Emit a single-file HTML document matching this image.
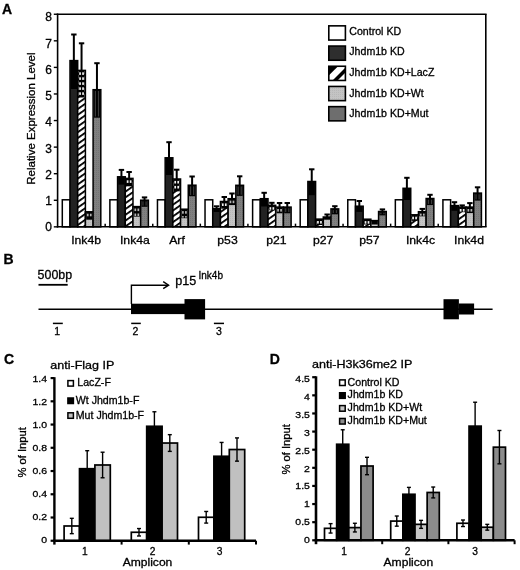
<!DOCTYPE html>
<html><head><meta charset="utf-8"><title>Figure</title>
<style>html,body{margin:0;padding:0;background:#fff;}svg{display:block;filter:grayscale(1) blur(0.35px);}text{font-family:"Liberation Sans", sans-serif;fill:#000;stroke:#000;stroke-width:0.3px;}</style>
</head><body>
<svg width="520" height="570" viewBox="0 0 520 570">
<rect width="520" height="570" fill="#fff"/>
<defs>
<pattern id="hatch" patternUnits="userSpaceOnUse" width="4.75" height="4" patternTransform="rotate(55)">
<rect width="4.75" height="4" fill="#fff"/><rect width="1.8" height="4" fill="#000"/></pattern>
<pattern id="hatchL" patternUnits="userSpaceOnUse" width="8" height="8" patternTransform="rotate(45)">
<rect width="8" height="8" fill="#000"/><rect x="2" width="4.5" height="8" fill="#fff"/></pattern>
<pattern id="lgray" patternUnits="userSpaceOnUse" width="2" height="2">
<rect width="2" height="2" fill="#c4c4c4"/><rect width="1" height="1" fill="#b8b8b8"/></pattern>
<pattern id="dgray" patternUnits="userSpaceOnUse" width="2" height="2">
<rect width="2" height="2" fill="#808080"/><rect width="1" height="1" fill="#747474"/></pattern>
</defs>
<rect x="62.3" y="199.8" width="7.7" height="27.05" fill="#ffffff" stroke="#000" stroke-width="1.5"/>
<rect x="70" y="60.6" width="7.7" height="166.25" fill="#222222" stroke="#000" stroke-width="1.5"/>
<rect x="70.75" y="60.6" width="6.2" height="28.4" fill="#000"/>
<line x1="73.85" y1="60.6" x2="73.85" y2="34.5" stroke="#000" stroke-width="2" stroke-linecap="butt"/>
<line x1="71.15" y1="34.5" x2="76.55" y2="34.5" stroke="#000" stroke-width="2" stroke-linecap="butt"/>
<rect x="77.7" y="70.4" width="7.7" height="156.45" fill="url(#hatch)" stroke="#000" stroke-width="1.5"/>
<rect x="78.45" y="70.4" width="6.2" height="27.1" fill="#000"/>
<rect x="79.2" y="72.3" width="1.7" height="2.6" fill="#f0f0f0"/>
<rect x="82.2" y="72.3" width="1.7" height="2.6" fill="#f0f0f0"/>
<rect x="79.2" y="77.3" width="1.7" height="2.6" fill="#f0f0f0"/>
<rect x="82.2" y="77.3" width="1.7" height="2.6" fill="#f0f0f0"/>
<rect x="79.2" y="82.3" width="1.7" height="2.6" fill="#f0f0f0"/>
<rect x="82.2" y="82.3" width="1.7" height="2.6" fill="#f0f0f0"/>
<rect x="79.2" y="87.3" width="1.7" height="2.6" fill="#f0f0f0"/>
<rect x="82.2" y="87.3" width="1.7" height="2.6" fill="#f0f0f0"/>
<rect x="79.2" y="92.3" width="1.7" height="2.6" fill="#f0f0f0"/>
<rect x="82.2" y="92.3" width="1.7" height="2.6" fill="#f0f0f0"/>
<line x1="81.55" y1="70.4" x2="81.55" y2="43.3" stroke="#000" stroke-width="2" stroke-linecap="butt"/>
<line x1="78.85" y1="43.3" x2="84.25" y2="43.3" stroke="#000" stroke-width="2" stroke-linecap="butt"/>
<rect x="85.4" y="211.8" width="7.7" height="15.05" fill="url(#lgray)" stroke="#000" stroke-width="1.5"/>
<rect x="86.15" y="211.8" width="6.2" height="7.9" fill="#000"/>
<rect x="86.9" y="213.7" width="1.7" height="2.6" fill="#b4b4b4"/>
<rect x="89.9" y="213.7" width="1.7" height="2.6" fill="#b4b4b4"/>
<rect x="93.1" y="89.7" width="7.7" height="137.15" fill="url(#dgray)" stroke="#000" stroke-width="1.5"/>
<rect x="93.85" y="89.7" width="6.2" height="28" fill="#000"/>
<rect x="94.8" y="90.9" width="1.2" height="25.6" fill="#3c3c3c"/>
<rect x="97.9" y="90.9" width="1.2" height="25.6" fill="#3c3c3c"/>
<line x1="96.95" y1="89.7" x2="96.95" y2="63.2" stroke="#000" stroke-width="2" stroke-linecap="butt"/>
<line x1="94.25" y1="63.2" x2="99.65" y2="63.2" stroke="#000" stroke-width="2" stroke-linecap="butt"/>
<rect x="109.88" y="199.8" width="7.7" height="27.05" fill="#ffffff" stroke="#000" stroke-width="1.5"/>
<rect x="117.58" y="176.8" width="7.7" height="50.05" fill="#222222" stroke="#000" stroke-width="1.5"/>
<rect x="118.33" y="176.8" width="6.2" height="7.8" fill="#000"/>
<line x1="121.43" y1="176.8" x2="121.43" y2="169.9" stroke="#000" stroke-width="2" stroke-linecap="butt"/>
<line x1="118.73" y1="169.9" x2="124.13" y2="169.9" stroke="#000" stroke-width="2" stroke-linecap="butt"/>
<rect x="125.28" y="178.4" width="7.7" height="48.45" fill="url(#hatch)" stroke="#000" stroke-width="1.5"/>
<rect x="126.03" y="178.4" width="6.2" height="7.9" fill="#000"/>
<rect x="126.78" y="180.3" width="1.7" height="2.6" fill="#f0f0f0"/>
<rect x="129.78" y="180.3" width="1.7" height="2.6" fill="#f0f0f0"/>
<line x1="129.13" y1="178.4" x2="129.13" y2="172" stroke="#000" stroke-width="2" stroke-linecap="butt"/>
<line x1="126.43" y1="172" x2="131.83" y2="172" stroke="#000" stroke-width="2" stroke-linecap="butt"/>
<rect x="132.98" y="206.6" width="7.7" height="20.25" fill="url(#lgray)" stroke="#000" stroke-width="1.5"/>
<rect x="133.73" y="206.6" width="6.2" height="10" fill="#000"/>
<rect x="134.48" y="208.5" width="1.7" height="2.6" fill="#b4b4b4"/>
<rect x="137.48" y="208.5" width="1.7" height="2.6" fill="#b4b4b4"/>
<rect x="134.48" y="213.5" width="1.7" height="2.5" fill="#b4b4b4"/>
<rect x="137.48" y="213.5" width="1.7" height="2.5" fill="#b4b4b4"/>
<rect x="140.68" y="200.2" width="7.7" height="26.65" fill="url(#dgray)" stroke="#000" stroke-width="1.5"/>
<rect x="141.43" y="200.2" width="6.2" height="6.6" fill="#000"/>
<rect x="142.38" y="201.4" width="1.2" height="4.2" fill="#3c3c3c"/>
<rect x="145.48" y="201.4" width="1.2" height="4.2" fill="#3c3c3c"/>
<line x1="144.53" y1="200.2" x2="144.53" y2="197.4" stroke="#000" stroke-width="2" stroke-linecap="butt"/>
<line x1="141.83" y1="197.4" x2="147.23" y2="197.4" stroke="#000" stroke-width="2" stroke-linecap="butt"/>
<rect x="157.46" y="199.8" width="7.7" height="27.05" fill="#ffffff" stroke="#000" stroke-width="1.5"/>
<rect x="165.16" y="157.8" width="7.7" height="69.05" fill="#222222" stroke="#000" stroke-width="1.5"/>
<rect x="165.91" y="157.8" width="6.2" height="17.2" fill="#000"/>
<line x1="169.01" y1="157.8" x2="169.01" y2="142.2" stroke="#000" stroke-width="2" stroke-linecap="butt"/>
<line x1="166.31" y1="142.2" x2="171.71" y2="142.2" stroke="#000" stroke-width="2" stroke-linecap="butt"/>
<rect x="172.86" y="179" width="7.7" height="47.85" fill="url(#hatch)" stroke="#000" stroke-width="1.5"/>
<rect x="173.61" y="179" width="6.2" height="12.3" fill="#000"/>
<rect x="174.36" y="180.9" width="1.7" height="2.6" fill="#f0f0f0"/>
<rect x="177.36" y="180.9" width="1.7" height="2.6" fill="#f0f0f0"/>
<rect x="174.36" y="185.9" width="1.7" height="2.6" fill="#f0f0f0"/>
<rect x="177.36" y="185.9" width="1.7" height="2.6" fill="#f0f0f0"/>
<line x1="176.71" y1="179" x2="176.71" y2="169.7" stroke="#000" stroke-width="2" stroke-linecap="butt"/>
<line x1="174.01" y1="169.7" x2="179.41" y2="169.7" stroke="#000" stroke-width="2" stroke-linecap="butt"/>
<rect x="180.56" y="209.2" width="7.7" height="17.65" fill="url(#lgray)" stroke="#000" stroke-width="1.5"/>
<rect x="181.31" y="209.2" width="6.2" height="9" fill="#000"/>
<rect x="182.06" y="211.1" width="1.7" height="2.6" fill="#b4b4b4"/>
<rect x="185.06" y="211.1" width="1.7" height="2.6" fill="#b4b4b4"/>
<rect x="182.06" y="216.1" width="1.7" height="1.5" fill="#b4b4b4"/>
<rect x="185.06" y="216.1" width="1.7" height="1.5" fill="#b4b4b4"/>
<rect x="188.26" y="185.2" width="7.7" height="41.65" fill="url(#dgray)" stroke="#000" stroke-width="1.5"/>
<rect x="189.01" y="185.2" width="6.2" height="11" fill="#000"/>
<rect x="189.96" y="186.4" width="1.2" height="8.6" fill="#3c3c3c"/>
<rect x="193.06" y="186.4" width="1.2" height="8.6" fill="#3c3c3c"/>
<line x1="192.11" y1="185.2" x2="192.11" y2="176.5" stroke="#000" stroke-width="2" stroke-linecap="butt"/>
<line x1="189.41" y1="176.5" x2="194.81" y2="176.5" stroke="#000" stroke-width="2" stroke-linecap="butt"/>
<rect x="205.03" y="199.8" width="7.7" height="27.05" fill="#ffffff" stroke="#000" stroke-width="1.5"/>
<rect x="212.73" y="208.7" width="7.7" height="18.15" fill="#222222" stroke="#000" stroke-width="1.5"/>
<rect x="213.48" y="208.7" width="6.2" height="3.3" fill="#000"/>
<line x1="216.58" y1="208.7" x2="216.58" y2="206.3" stroke="#000" stroke-width="2" stroke-linecap="butt"/>
<line x1="213.88" y1="206.3" x2="219.28" y2="206.3" stroke="#000" stroke-width="2" stroke-linecap="butt"/>
<rect x="220.43" y="201.5" width="7.7" height="25.35" fill="url(#hatch)" stroke="#000" stroke-width="1.5"/>
<rect x="221.18" y="201.5" width="6.2" height="7.2" fill="#000"/>
<rect x="221.93" y="203.4" width="1.7" height="2.6" fill="#f0f0f0"/>
<rect x="224.93" y="203.4" width="1.7" height="2.6" fill="#f0f0f0"/>
<line x1="224.28" y1="201.5" x2="224.28" y2="197" stroke="#000" stroke-width="2" stroke-linecap="butt"/>
<line x1="221.58" y1="197" x2="226.98" y2="197" stroke="#000" stroke-width="2" stroke-linecap="butt"/>
<rect x="228.13" y="198.7" width="7.7" height="28.15" fill="url(#lgray)" stroke="#000" stroke-width="1.5"/>
<rect x="228.88" y="198.7" width="6.2" height="6.4" fill="#000"/>
<rect x="229.63" y="200.6" width="1.7" height="2.6" fill="#b4b4b4"/>
<rect x="232.63" y="200.6" width="1.7" height="2.6" fill="#b4b4b4"/>
<line x1="231.98" y1="198.7" x2="231.98" y2="193.5" stroke="#000" stroke-width="2" stroke-linecap="butt"/>
<line x1="229.28" y1="193.5" x2="234.68" y2="193.5" stroke="#000" stroke-width="2" stroke-linecap="butt"/>
<rect x="235.83" y="185.3" width="7.7" height="41.55" fill="url(#dgray)" stroke="#000" stroke-width="1.5"/>
<rect x="236.58" y="185.3" width="6.2" height="10.6" fill="#000"/>
<rect x="237.53" y="186.5" width="1.2" height="8.2" fill="#3c3c3c"/>
<rect x="240.63" y="186.5" width="1.2" height="8.2" fill="#3c3c3c"/>
<line x1="239.68" y1="185.3" x2="239.68" y2="176.3" stroke="#000" stroke-width="2" stroke-linecap="butt"/>
<line x1="236.98" y1="176.3" x2="242.38" y2="176.3" stroke="#000" stroke-width="2" stroke-linecap="butt"/>
<rect x="252.61" y="199.8" width="7.7" height="27.05" fill="#ffffff" stroke="#000" stroke-width="1.5"/>
<rect x="260.31" y="198.7" width="7.7" height="28.15" fill="#222222" stroke="#000" stroke-width="1.5"/>
<rect x="261.06" y="198.7" width="6.2" height="7.8" fill="#000"/>
<line x1="264.16" y1="198.7" x2="264.16" y2="192.8" stroke="#000" stroke-width="2" stroke-linecap="butt"/>
<line x1="261.46" y1="192.8" x2="266.86" y2="192.8" stroke="#000" stroke-width="2" stroke-linecap="butt"/>
<rect x="268.01" y="205.3" width="7.7" height="21.55" fill="url(#hatch)" stroke="#000" stroke-width="1.5"/>
<rect x="268.76" y="205.3" width="6.2" height="5" fill="#000"/>
<rect x="269.51" y="207.2" width="1.7" height="2.5" fill="#f0f0f0"/>
<rect x="272.51" y="207.2" width="1.7" height="2.5" fill="#f0f0f0"/>
<line x1="271.86" y1="205.3" x2="271.86" y2="202.8" stroke="#000" stroke-width="2" stroke-linecap="butt"/>
<line x1="269.16" y1="202.8" x2="274.56" y2="202.8" stroke="#000" stroke-width="2" stroke-linecap="butt"/>
<rect x="275.71" y="207.1" width="7.7" height="19.75" fill="url(#lgray)" stroke="#000" stroke-width="1.5"/>
<rect x="276.46" y="207.1" width="6.2" height="6.2" fill="#000"/>
<rect x="277.21" y="209" width="1.7" height="2.6" fill="#b4b4b4"/>
<rect x="280.21" y="209" width="1.7" height="2.6" fill="#b4b4b4"/>
<line x1="279.56" y1="207.1" x2="279.56" y2="203" stroke="#000" stroke-width="2" stroke-linecap="butt"/>
<line x1="276.86" y1="203" x2="282.26" y2="203" stroke="#000" stroke-width="2" stroke-linecap="butt"/>
<rect x="283.41" y="207.1" width="7.7" height="19.75" fill="url(#dgray)" stroke="#000" stroke-width="1.5"/>
<rect x="284.16" y="207.1" width="6.2" height="6.2" fill="#000"/>
<rect x="285.11" y="208.3" width="1.2" height="3.8" fill="#3c3c3c"/>
<rect x="288.21" y="208.3" width="1.2" height="3.8" fill="#3c3c3c"/>
<line x1="287.26" y1="207.1" x2="287.26" y2="203" stroke="#000" stroke-width="2" stroke-linecap="butt"/>
<line x1="284.56" y1="203" x2="289.96" y2="203" stroke="#000" stroke-width="2" stroke-linecap="butt"/>
<rect x="300.19" y="199.8" width="7.7" height="27.05" fill="#ffffff" stroke="#000" stroke-width="1.5"/>
<rect x="307.89" y="181.5" width="7.7" height="45.35" fill="#222222" stroke="#000" stroke-width="1.5"/>
<rect x="308.64" y="181.5" width="6.2" height="13.7" fill="#000"/>
<line x1="311.74" y1="181.5" x2="311.74" y2="169.3" stroke="#000" stroke-width="2" stroke-linecap="butt"/>
<line x1="309.04" y1="169.3" x2="314.44" y2="169.3" stroke="#000" stroke-width="2" stroke-linecap="butt"/>
<rect x="315.59" y="219.1" width="7.7" height="7.75" fill="url(#hatch)" stroke="#000" stroke-width="1.5"/>
<rect x="316.34" y="219.1" width="6.2" height="5.9" fill="#000"/>
<rect x="317.09" y="221" width="1.7" height="2.6" fill="#f0f0f0"/>
<rect x="320.09" y="221" width="1.7" height="2.6" fill="#f0f0f0"/>
<rect x="323.29" y="217" width="7.7" height="9.85" fill="url(#lgray)" stroke="#000" stroke-width="1.5"/>
<rect x="324.04" y="217" width="6.2" height="2.7" fill="#000"/>
<line x1="327.14" y1="217" x2="327.14" y2="214.5" stroke="#000" stroke-width="2" stroke-linecap="butt"/>
<line x1="324.44" y1="214.5" x2="329.84" y2="214.5" stroke="#000" stroke-width="2" stroke-linecap="butt"/>
<rect x="330.99" y="208.9" width="7.7" height="17.95" fill="url(#dgray)" stroke="#000" stroke-width="1.5"/>
<rect x="331.74" y="208.9" width="6.2" height="5.4" fill="#000"/>
<rect x="332.69" y="210.1" width="1.2" height="3" fill="#3c3c3c"/>
<rect x="335.79" y="210.1" width="1.2" height="3" fill="#3c3c3c"/>
<line x1="334.84" y1="208.9" x2="334.84" y2="206.2" stroke="#000" stroke-width="2" stroke-linecap="butt"/>
<line x1="332.14" y1="206.2" x2="337.54" y2="206.2" stroke="#000" stroke-width="2" stroke-linecap="butt"/>
<rect x="347.77" y="199.8" width="7.7" height="27.05" fill="#ffffff" stroke="#000" stroke-width="1.5"/>
<rect x="355.47" y="206.2" width="7.7" height="20.65" fill="#222222" stroke="#000" stroke-width="1.5"/>
<rect x="356.22" y="206.2" width="6.2" height="5.7" fill="#000"/>
<line x1="359.32" y1="206.2" x2="359.32" y2="201" stroke="#000" stroke-width="2" stroke-linecap="butt"/>
<line x1="356.62" y1="201" x2="362.02" y2="201" stroke="#000" stroke-width="2" stroke-linecap="butt"/>
<rect x="363.17" y="219.2" width="7.7" height="7.65" fill="url(#hatch)" stroke="#000" stroke-width="1.5"/>
<rect x="363.92" y="219.2" width="6.2" height="5.3" fill="#000"/>
<rect x="364.67" y="221.1" width="1.7" height="2.6" fill="#f0f0f0"/>
<rect x="367.67" y="221.1" width="1.7" height="2.6" fill="#f0f0f0"/>
<rect x="370.87" y="220.6" width="7.7" height="6.25" fill="url(#lgray)" stroke="#000" stroke-width="1.5"/>
<rect x="371.62" y="220.6" width="6.2" height="3.9" fill="#000"/>
<rect x="378.57" y="211.5" width="7.7" height="15.35" fill="url(#dgray)" stroke="#000" stroke-width="1.5"/>
<rect x="379.32" y="211.5" width="6.2" height="3.9" fill="#000"/>
<rect x="380.27" y="212.7" width="1.2" height="1.5" fill="#3c3c3c"/>
<rect x="383.37" y="212.7" width="1.2" height="1.5" fill="#3c3c3c"/>
<line x1="382.42" y1="211.5" x2="382.42" y2="209.4" stroke="#000" stroke-width="2" stroke-linecap="butt"/>
<line x1="379.72" y1="209.4" x2="385.12" y2="209.4" stroke="#000" stroke-width="2" stroke-linecap="butt"/>
<rect x="395.34" y="199.8" width="7.7" height="27.05" fill="#ffffff" stroke="#000" stroke-width="1.5"/>
<rect x="403.04" y="188.3" width="7.7" height="38.55" fill="#222222" stroke="#000" stroke-width="1.5"/>
<rect x="403.79" y="188.3" width="6.2" height="11.7" fill="#000"/>
<line x1="406.89" y1="188.3" x2="406.89" y2="177.8" stroke="#000" stroke-width="2" stroke-linecap="butt"/>
<line x1="404.19" y1="177.8" x2="409.59" y2="177.8" stroke="#000" stroke-width="2" stroke-linecap="butt"/>
<rect x="410.74" y="214.8" width="7.7" height="12.05" fill="url(#hatch)" stroke="#000" stroke-width="1.5"/>
<rect x="411.49" y="214.8" width="6.2" height="6.1" fill="#000"/>
<rect x="412.24" y="216.7" width="1.7" height="2.6" fill="#f0f0f0"/>
<rect x="415.24" y="216.7" width="1.7" height="2.6" fill="#f0f0f0"/>
<rect x="418.44" y="211.7" width="7.7" height="15.15" fill="url(#lgray)" stroke="#000" stroke-width="1.5"/>
<rect x="419.19" y="211.7" width="6.2" height="4.6" fill="#000"/>
<rect x="419.94" y="213.6" width="1.7" height="2.1" fill="#b4b4b4"/>
<rect x="422.94" y="213.6" width="1.7" height="2.1" fill="#b4b4b4"/>
<line x1="422.29" y1="211.7" x2="422.29" y2="208.9" stroke="#000" stroke-width="2" stroke-linecap="butt"/>
<line x1="419.59" y1="208.9" x2="424.99" y2="208.9" stroke="#000" stroke-width="2" stroke-linecap="butt"/>
<rect x="426.14" y="198.5" width="7.7" height="28.35" fill="url(#dgray)" stroke="#000" stroke-width="1.5"/>
<rect x="426.89" y="198.5" width="6.2" height="6.6" fill="#000"/>
<rect x="427.84" y="199.7" width="1.2" height="4.2" fill="#3c3c3c"/>
<rect x="430.94" y="199.7" width="1.2" height="4.2" fill="#3c3c3c"/>
<line x1="429.99" y1="198.5" x2="429.99" y2="194.8" stroke="#000" stroke-width="2" stroke-linecap="butt"/>
<line x1="427.29" y1="194.8" x2="432.69" y2="194.8" stroke="#000" stroke-width="2" stroke-linecap="butt"/>
<rect x="442.92" y="199.8" width="7.7" height="27.05" fill="#ffffff" stroke="#000" stroke-width="1.5"/>
<rect x="450.62" y="205.6" width="7.7" height="21.25" fill="#222222" stroke="#000" stroke-width="1.5"/>
<rect x="451.37" y="205.6" width="6.2" height="5.2" fill="#000"/>
<line x1="454.47" y1="205.6" x2="454.47" y2="202.2" stroke="#000" stroke-width="2" stroke-linecap="butt"/>
<line x1="451.77" y1="202.2" x2="457.17" y2="202.2" stroke="#000" stroke-width="2" stroke-linecap="butt"/>
<rect x="458.32" y="207.1" width="7.7" height="19.75" fill="url(#hatch)" stroke="#000" stroke-width="1.5"/>
<rect x="459.07" y="207.1" width="6.2" height="5.1" fill="#000"/>
<rect x="459.82" y="209" width="1.7" height="2.6" fill="#f0f0f0"/>
<rect x="462.82" y="209" width="1.7" height="2.6" fill="#f0f0f0"/>
<line x1="462.17" y1="207.1" x2="462.17" y2="205.4" stroke="#000" stroke-width="2" stroke-linecap="butt"/>
<line x1="459.47" y1="205.4" x2="464.87" y2="205.4" stroke="#000" stroke-width="2" stroke-linecap="butt"/>
<rect x="466.02" y="207.1" width="7.7" height="19.75" fill="url(#lgray)" stroke="#000" stroke-width="1.5"/>
<rect x="466.77" y="207.1" width="6.2" height="6" fill="#000"/>
<rect x="467.52" y="209" width="1.7" height="2.6" fill="#b4b4b4"/>
<rect x="470.52" y="209" width="1.7" height="2.6" fill="#b4b4b4"/>
<line x1="469.87" y1="207.1" x2="469.87" y2="203.1" stroke="#000" stroke-width="2" stroke-linecap="butt"/>
<line x1="467.17" y1="203.1" x2="472.57" y2="203.1" stroke="#000" stroke-width="2" stroke-linecap="butt"/>
<rect x="473.72" y="193.1" width="7.7" height="33.75" fill="url(#dgray)" stroke="#000" stroke-width="1.5"/>
<rect x="474.47" y="193.1" width="6.2" height="7.5" fill="#000"/>
<rect x="475.42" y="194.3" width="1.2" height="5.1" fill="#3c3c3c"/>
<rect x="478.52" y="194.3" width="1.2" height="5.1" fill="#3c3c3c"/>
<line x1="477.57" y1="193.1" x2="477.57" y2="187.3" stroke="#000" stroke-width="2" stroke-linecap="butt"/>
<line x1="474.87" y1="187.3" x2="480.27" y2="187.3" stroke="#000" stroke-width="2" stroke-linecap="butt"/>
<line x1="57.6" y1="13.65" x2="57.6" y2="227.55" stroke="#000" stroke-width="1.6" stroke-linecap="butt"/>
<line x1="56.8" y1="14.25" x2="486.6" y2="14.25" stroke="#000" stroke-width="1.4" stroke-linecap="butt"/>
<line x1="485.8" y1="14.25" x2="485.8" y2="226.85" stroke="#000" stroke-width="1.6" stroke-linecap="butt"/>
<line x1="56.8" y1="226.85" x2="486.6" y2="226.85" stroke="#000" stroke-width="1.5" stroke-linecap="butt"/>
<line x1="53.8" y1="226.85" x2="57.6" y2="226.85" stroke="#000" stroke-width="1.4" stroke-linecap="butt"/>
<text x="52" y="231.29" font-size="12" text-anchor="end">0</text>
<line x1="53.8" y1="200.28" x2="57.6" y2="200.28" stroke="#000" stroke-width="1.4" stroke-linecap="butt"/>
<text x="52" y="205.06" font-size="12" text-anchor="end">1</text>
<line x1="53.8" y1="173.7" x2="57.6" y2="173.7" stroke="#000" stroke-width="1.4" stroke-linecap="butt"/>
<text x="52" y="178.83" font-size="12" text-anchor="end">2</text>
<line x1="53.8" y1="147.12" x2="57.6" y2="147.12" stroke="#000" stroke-width="1.4" stroke-linecap="butt"/>
<text x="52" y="152.6" font-size="12" text-anchor="end">3</text>
<line x1="53.8" y1="120.55" x2="57.6" y2="120.55" stroke="#000" stroke-width="1.4" stroke-linecap="butt"/>
<text x="52" y="126.37" font-size="12" text-anchor="end">4</text>
<line x1="53.8" y1="93.97" x2="57.6" y2="93.97" stroke="#000" stroke-width="1.4" stroke-linecap="butt"/>
<text x="52" y="100.14" font-size="12" text-anchor="end">5</text>
<line x1="53.8" y1="67.4" x2="57.6" y2="67.4" stroke="#000" stroke-width="1.4" stroke-linecap="butt"/>
<text x="52" y="73.91" font-size="12" text-anchor="end">6</text>
<line x1="53.8" y1="40.82" x2="57.6" y2="40.82" stroke="#000" stroke-width="1.4" stroke-linecap="butt"/>
<text x="52" y="47.68" font-size="12" text-anchor="end">7</text>
<line x1="53.8" y1="14.25" x2="57.6" y2="14.25" stroke="#000" stroke-width="1.4" stroke-linecap="butt"/>
<text x="52" y="21.45" font-size="12" text-anchor="end">8</text>
<line x1="105.18" y1="226.85" x2="105.18" y2="223.65" stroke="#000" stroke-width="1.5" stroke-linecap="butt"/>
<line x1="152.76" y1="226.85" x2="152.76" y2="223.65" stroke="#000" stroke-width="1.5" stroke-linecap="butt"/>
<line x1="200.33" y1="226.85" x2="200.33" y2="223.65" stroke="#000" stroke-width="1.5" stroke-linecap="butt"/>
<line x1="247.91" y1="226.85" x2="247.91" y2="223.65" stroke="#000" stroke-width="1.5" stroke-linecap="butt"/>
<line x1="295.49" y1="226.85" x2="295.49" y2="223.65" stroke="#000" stroke-width="1.5" stroke-linecap="butt"/>
<line x1="343.07" y1="226.85" x2="343.07" y2="223.65" stroke="#000" stroke-width="1.5" stroke-linecap="butt"/>
<line x1="390.64" y1="226.85" x2="390.64" y2="223.65" stroke="#000" stroke-width="1.5" stroke-linecap="butt"/>
<line x1="438.22" y1="226.85" x2="438.22" y2="223.65" stroke="#000" stroke-width="1.5" stroke-linecap="butt"/>
<text transform="translate(86.1,243.6) scale(1.08,1)" font-size="11.3" text-anchor="middle">Ink4b</text>
<text transform="translate(134.9,243.6) scale(1.08,1)" font-size="11.3" text-anchor="middle">Ink4a</text>
<text transform="translate(177,243.6) scale(1.08,1)" font-size="11.3" text-anchor="middle">Arf</text>
<text transform="translate(227.5,243.6) scale(1.08,1)" font-size="11.3" text-anchor="middle">p53</text>
<text transform="translate(276.3,243.6) scale(1.08,1)" font-size="11.3" text-anchor="middle">p21</text>
<text transform="translate(323.1,243.6) scale(1.08,1)" font-size="11.3" text-anchor="middle">p27</text>
<text transform="translate(369.3,243.6) scale(1.08,1)" font-size="11.3" text-anchor="middle">p57</text>
<text transform="translate(420.5,243.6) scale(1.08,1)" font-size="11.3" text-anchor="middle">Ink4c</text>
<text transform="translate(469,243.6) scale(1.08,1)" font-size="11.3" text-anchor="middle">Ink4d</text>
<text transform="translate(35.2,118.6) rotate(-90)" x="0" y="0" font-size="11.5" text-anchor="middle">Relative Expression Level</text>
<rect x="328.8" y="25.85" width="16.6" height="14.2" fill="#ffffff" stroke="#000" stroke-width="1.6"/>
<text x="349.3" y="35" font-size="10.6">Control KD</text>
<rect x="328.8" y="46.05" width="16.6" height="14.2" fill="#2e2e2e" stroke="#000" stroke-width="1.6"/>
<text x="349.3" y="54.8" font-size="10.6">Jhdm1b KD</text>
<clipPath id="lzc"><rect x="328.8" y="66.25" width="16.6" height="14.2"/></clipPath>
<g clip-path="url(#lzc)"><rect x="328" y="65.25" width="20" height="18" fill="#000"/>
<polygon points="344.3,60 353,60 328,85 319.3,85" fill="#fff"/>
<polygon points="358,60 372,60 347,85 333,85" fill="#fff"/>
</g>
<rect x="328.8" y="66.25" width="16.6" height="14.2" fill="none" stroke="#000" stroke-width="1.6"/>
<text x="349.3" y="76" font-size="10.6">Jhdm1b KD+LacZ</text>
<rect x="328.8" y="86.45" width="16.6" height="14.2" fill="url(#lgray)" stroke="#000" stroke-width="1.6"/>
<text x="349.3" y="97" font-size="10.6">Jhdm1b KD+Wt</text>
<rect x="328.8" y="106.65" width="16.6" height="14.2" fill="#6e6e6e" stroke="#000" stroke-width="1.6"/>
<text x="349.3" y="117.1" font-size="10.6">Jhdm1b KD+Mut</text>
<text x="2" y="13.6" font-size="14" font-weight="bold">A</text>
<text x="3.6" y="264.2" font-size="14" font-weight="bold">B</text>
<text x="37.6" y="279.2" font-size="12.4">500bp</text>
<line x1="38.5" y1="284.8" x2="67.7" y2="284.8" stroke="#000" stroke-width="1.8" stroke-linecap="butt"/>
<line x1="38.5" y1="309.3" x2="492.6" y2="309.3" stroke="#000" stroke-width="1.4" stroke-linecap="butt"/>
<rect x="131" y="303.7" width="54" height="10.4" fill="#000"/>
<rect x="184.5" y="299.1" width="20.6" height="20.3" fill="#000"/>
<rect x="443.5" y="299.2" width="15.4" height="20.1" fill="#000"/>
<rect x="458.9" y="303.5" width="15.2" height="11" fill="#000"/>
<path d="M131.4 304 V285.2 H168.3" fill="none" stroke="#000" stroke-width="1.4"/>
<path d="M163.2 281.7 L168.6 285.2 L163.2 288.7" fill="none" stroke="#000" stroke-width="1.4"/>
<text x="175.3" y="285.3" font-size="12.6">p15</text>
<text x="198.5" y="278.9" font-size="10">Ink4b</text>
<line x1="52.9" y1="323.4" x2="62.8" y2="323.4" stroke="#000" stroke-width="1.5" stroke-linecap="butt"/>
<text x="57.2" y="334.6" font-size="10.5" text-anchor="middle">1</text>
<line x1="131.2" y1="323.4" x2="140.8" y2="323.4" stroke="#000" stroke-width="1.5" stroke-linecap="butt"/>
<text x="135.4" y="334.6" font-size="10.5" text-anchor="middle">2</text>
<line x1="213.9" y1="323.4" x2="224" y2="323.4" stroke="#000" stroke-width="1.5" stroke-linecap="butt"/>
<text x="219" y="334.6" font-size="10.5" text-anchor="middle">3</text>
<text x="4" y="364.3" font-size="14" font-weight="bold">C</text>
<text transform="translate(50.3,368.8) scale(1.1,1)" font-size="11.4">anti-Flag IP</text>
<rect x="64.1" y="525.99" width="15.4" height="14.76" fill="#ffffff" stroke="#000" stroke-width="1.7"/>
<line x1="71.8" y1="518.32" x2="71.8" y2="533.66" stroke="#000" stroke-width="1.4" stroke-linecap="butt"/>
<line x1="69.8" y1="518.32" x2="73.8" y2="518.32" stroke="#000" stroke-width="1.4" stroke-linecap="butt"/>
<line x1="69.8" y1="533.66" x2="73.8" y2="533.66" stroke="#000" stroke-width="1.4" stroke-linecap="butt"/>
<rect x="79.5" y="468.71" width="15.4" height="72.04" fill="#000000" stroke="#000" stroke-width="1.7"/>
<line x1="87.2" y1="450.69" x2="87.2" y2="486.72" stroke="#000" stroke-width="1.4" stroke-linecap="butt"/>
<line x1="85.2" y1="450.69" x2="89.2" y2="450.69" stroke="#000" stroke-width="1.4" stroke-linecap="butt"/>
<line x1="85.2" y1="486.72" x2="89.2" y2="486.72" stroke="#000" stroke-width="1.4" stroke-linecap="butt"/>
<rect x="94.9" y="464.99" width="15.4" height="75.76" fill="#c0c0c0" stroke="#000" stroke-width="1.7"/>
<line x1="102.6" y1="452.21" x2="102.6" y2="477.77" stroke="#000" stroke-width="1.4" stroke-linecap="butt"/>
<line x1="100.6" y1="452.21" x2="104.6" y2="452.21" stroke="#000" stroke-width="1.4" stroke-linecap="butt"/>
<line x1="100.6" y1="477.77" x2="104.6" y2="477.77" stroke="#000" stroke-width="1.4" stroke-linecap="butt"/>
<rect x="131.3" y="532.27" width="15.4" height="8.48" fill="#ffffff" stroke="#000" stroke-width="1.7"/>
<line x1="139" y1="528.55" x2="139" y2="535.99" stroke="#000" stroke-width="1.4" stroke-linecap="butt"/>
<line x1="137" y1="528.55" x2="141" y2="528.55" stroke="#000" stroke-width="1.4" stroke-linecap="butt"/>
<line x1="137" y1="535.99" x2="141" y2="535.99" stroke="#000" stroke-width="1.4" stroke-linecap="butt"/>
<rect x="146.7" y="426.29" width="15.4" height="114.46" fill="#000000" stroke="#000" stroke-width="1.7"/>
<line x1="154.4" y1="411.77" x2="154.4" y2="440.82" stroke="#000" stroke-width="1.4" stroke-linecap="butt"/>
<line x1="152.4" y1="411.77" x2="156.4" y2="411.77" stroke="#000" stroke-width="1.4" stroke-linecap="butt"/>
<line x1="152.4" y1="440.82" x2="156.4" y2="440.82" stroke="#000" stroke-width="1.4" stroke-linecap="butt"/>
<rect x="162.1" y="443.03" width="15.4" height="97.72" fill="#c0c0c0" stroke="#000" stroke-width="1.7"/>
<line x1="169.8" y1="434.66" x2="169.8" y2="451.39" stroke="#000" stroke-width="1.4" stroke-linecap="butt"/>
<line x1="167.8" y1="434.66" x2="171.8" y2="434.66" stroke="#000" stroke-width="1.4" stroke-linecap="butt"/>
<line x1="167.8" y1="451.39" x2="171.8" y2="451.39" stroke="#000" stroke-width="1.4" stroke-linecap="butt"/>
<rect x="198.5" y="517.28" width="15.4" height="23.47" fill="#ffffff" stroke="#000" stroke-width="1.7"/>
<line x1="206.2" y1="511.47" x2="206.2" y2="523.09" stroke="#000" stroke-width="1.4" stroke-linecap="butt"/>
<line x1="204.2" y1="511.47" x2="208.2" y2="511.47" stroke="#000" stroke-width="1.4" stroke-linecap="butt"/>
<line x1="204.2" y1="523.09" x2="208.2" y2="523.09" stroke="#000" stroke-width="1.4" stroke-linecap="butt"/>
<rect x="213.9" y="456.27" width="15.4" height="84.48" fill="#000000" stroke="#000" stroke-width="1.7"/>
<line x1="221.6" y1="442.44" x2="221.6" y2="470.1" stroke="#000" stroke-width="1.4" stroke-linecap="butt"/>
<line x1="219.6" y1="442.44" x2="223.6" y2="442.44" stroke="#000" stroke-width="1.4" stroke-linecap="butt"/>
<line x1="219.6" y1="470.1" x2="223.6" y2="470.1" stroke="#000" stroke-width="1.4" stroke-linecap="butt"/>
<rect x="229.3" y="449.53" width="15.4" height="91.22" fill="#c0c0c0" stroke="#000" stroke-width="1.7"/>
<line x1="237" y1="437.91" x2="237" y2="461.15" stroke="#000" stroke-width="1.4" stroke-linecap="butt"/>
<line x1="235" y1="437.91" x2="239" y2="437.91" stroke="#000" stroke-width="1.4" stroke-linecap="butt"/>
<line x1="235" y1="461.15" x2="239" y2="461.15" stroke="#000" stroke-width="1.4" stroke-linecap="butt"/>
<line x1="54.4" y1="377.2" x2="54.4" y2="544.6" stroke="#000" stroke-width="2.4" stroke-linecap="butt"/>
<line x1="53.2" y1="540.75" x2="256" y2="540.75" stroke="#000" stroke-width="2.4" stroke-linecap="butt"/>
<line x1="50.6" y1="540.75" x2="54.4" y2="540.75" stroke="#000" stroke-width="2.2" stroke-linecap="butt"/>
<text transform="translate(47,543.1) scale(1.07,1)" font-size="9.8" text-anchor="end">0</text>
<line x1="50.6" y1="517.51" x2="54.4" y2="517.51" stroke="#000" stroke-width="2.2" stroke-linecap="butt"/>
<text transform="translate(47,520.08) scale(1.07,1)" font-size="9.8" text-anchor="end">0.2</text>
<line x1="50.6" y1="494.27" x2="54.4" y2="494.27" stroke="#000" stroke-width="2.2" stroke-linecap="butt"/>
<text transform="translate(47,497.06) scale(1.07,1)" font-size="9.8" text-anchor="end">0.4</text>
<line x1="50.6" y1="471.03" x2="54.4" y2="471.03" stroke="#000" stroke-width="2.2" stroke-linecap="butt"/>
<text transform="translate(47,474.04) scale(1.07,1)" font-size="9.8" text-anchor="end">0.6</text>
<line x1="50.6" y1="447.79" x2="54.4" y2="447.79" stroke="#000" stroke-width="2.2" stroke-linecap="butt"/>
<text transform="translate(47,451.02) scale(1.07,1)" font-size="9.8" text-anchor="end">0.8</text>
<line x1="50.6" y1="424.55" x2="54.4" y2="424.55" stroke="#000" stroke-width="2.2" stroke-linecap="butt"/>
<text transform="translate(47,428) scale(1.07,1)" font-size="9.8" text-anchor="end">1.0</text>
<line x1="50.6" y1="401.31" x2="54.4" y2="401.31" stroke="#000" stroke-width="2.2" stroke-linecap="butt"/>
<text transform="translate(47,404.98) scale(1.07,1)" font-size="9.8" text-anchor="end">1.2</text>
<line x1="50.6" y1="378.07" x2="54.4" y2="378.07" stroke="#000" stroke-width="2.2" stroke-linecap="butt"/>
<text transform="translate(47,381.96) scale(1.07,1)" font-size="9.8" text-anchor="end">1.4</text>
<line x1="121.6" y1="540.75" x2="121.6" y2="544.6" stroke="#000" stroke-width="2" stroke-linecap="butt"/>
<line x1="188.8" y1="540.75" x2="188.8" y2="544.6" stroke="#000" stroke-width="2" stroke-linecap="butt"/>
<line x1="256" y1="540.75" x2="256" y2="544.6" stroke="#000" stroke-width="2" stroke-linecap="butt"/>
<text x="84.9" y="554.6" font-size="10.2" text-anchor="middle">1</text>
<text x="152.5" y="554.6" font-size="10.2" text-anchor="middle">2</text>
<text x="219.6" y="554.6" font-size="10.2" text-anchor="middle">3</text>
<text transform="translate(147.5,566.4) scale(1.08,1)" font-size="11.2" text-anchor="middle">Amplicon</text>
<text transform="translate(26.3,452.3) rotate(-90)" x="0" y="0" font-size="11.2" text-anchor="middle">% of Input</text>
<rect x="67.9" y="380.6" width="5.5" height="5.5" fill="#fff" stroke="#000" stroke-width="1.5"/>
<text x="77.3" y="385.9" font-size="10.6">LacZ-F</text>
<rect x="67.9" y="398" width="5.5" height="5.5" fill="#000" stroke="#000" stroke-width="1.5"/>
<text x="75.8" y="403.5" font-size="10.6">Wt Jhdm1b-F</text>
<rect x="67.9" y="412.8" width="5.5" height="5.5" fill="#c0c0c0" stroke="#000" stroke-width="1.5"/>
<text x="75.8" y="418.8" font-size="10.6">Mut Jhdm1b-F</text>
<text x="269.8" y="364.2" font-size="14" font-weight="bold">D</text>
<text transform="translate(312.1,368.4) scale(1.1,1)" font-size="11.4">anti-H3k36me2 IP</text>
<rect x="324.5" y="528.34" width="12.15" height="11.96" fill="#ffffff" stroke="#000" stroke-width="1.7"/>
<line x1="330.57" y1="523.63" x2="330.57" y2="533.05" stroke="#000" stroke-width="1.4" stroke-linecap="butt"/>
<line x1="328.57" y1="523.63" x2="332.57" y2="523.63" stroke="#000" stroke-width="1.4" stroke-linecap="butt"/>
<line x1="328.57" y1="533.05" x2="332.57" y2="533.05" stroke="#000" stroke-width="1.4" stroke-linecap="butt"/>
<rect x="336.65" y="444.26" width="12.15" height="96.04" fill="#000000" stroke="#000" stroke-width="1.7"/>
<line x1="342.72" y1="429.77" x2="342.72" y2="458.76" stroke="#000" stroke-width="1.4" stroke-linecap="butt"/>
<line x1="340.72" y1="429.77" x2="344.72" y2="429.77" stroke="#000" stroke-width="1.4" stroke-linecap="butt"/>
<line x1="340.72" y1="458.76" x2="344.72" y2="458.76" stroke="#000" stroke-width="1.4" stroke-linecap="butt"/>
<rect x="348.8" y="527.62" width="12.15" height="12.68" fill="#c8c8c8" stroke="#000" stroke-width="1.7"/>
<line x1="354.88" y1="523.27" x2="354.88" y2="531.96" stroke="#000" stroke-width="1.4" stroke-linecap="butt"/>
<line x1="352.88" y1="523.27" x2="356.88" y2="523.27" stroke="#000" stroke-width="1.4" stroke-linecap="butt"/>
<line x1="352.88" y1="531.96" x2="356.88" y2="531.96" stroke="#000" stroke-width="1.4" stroke-linecap="butt"/>
<rect x="360.95" y="466.01" width="12.15" height="74.29" fill="#8c8c8c" stroke="#000" stroke-width="1.7"/>
<line x1="367.02" y1="457.31" x2="367.02" y2="474.71" stroke="#000" stroke-width="1.4" stroke-linecap="butt"/>
<line x1="365.02" y1="457.31" x2="369.02" y2="457.31" stroke="#000" stroke-width="1.4" stroke-linecap="butt"/>
<line x1="365.02" y1="474.71" x2="369.02" y2="474.71" stroke="#000" stroke-width="1.4" stroke-linecap="butt"/>
<rect x="390.7" y="521.09" width="12.15" height="19.21" fill="#ffffff" stroke="#000" stroke-width="1.7"/>
<line x1="396.77" y1="516.02" x2="396.77" y2="526.17" stroke="#000" stroke-width="1.4" stroke-linecap="butt"/>
<line x1="394.77" y1="516.02" x2="398.77" y2="516.02" stroke="#000" stroke-width="1.4" stroke-linecap="butt"/>
<line x1="394.77" y1="526.17" x2="398.77" y2="526.17" stroke="#000" stroke-width="1.4" stroke-linecap="butt"/>
<rect x="402.85" y="494.28" width="12.15" height="46.02" fill="#000000" stroke="#000" stroke-width="1.7"/>
<line x1="408.92" y1="487.39" x2="408.92" y2="501.16" stroke="#000" stroke-width="1.4" stroke-linecap="butt"/>
<line x1="406.92" y1="487.39" x2="410.92" y2="487.39" stroke="#000" stroke-width="1.4" stroke-linecap="butt"/>
<line x1="406.92" y1="501.16" x2="410.92" y2="501.16" stroke="#000" stroke-width="1.4" stroke-linecap="butt"/>
<rect x="415" y="524.35" width="12.15" height="15.95" fill="#c8c8c8" stroke="#000" stroke-width="1.7"/>
<line x1="421.07" y1="520.37" x2="421.07" y2="528.34" stroke="#000" stroke-width="1.4" stroke-linecap="butt"/>
<line x1="419.07" y1="520.37" x2="423.07" y2="520.37" stroke="#000" stroke-width="1.4" stroke-linecap="butt"/>
<line x1="419.07" y1="528.34" x2="423.07" y2="528.34" stroke="#000" stroke-width="1.4" stroke-linecap="butt"/>
<rect x="427.15" y="492.46" width="12.15" height="47.84" fill="#8c8c8c" stroke="#000" stroke-width="1.7"/>
<line x1="433.22" y1="487.03" x2="433.22" y2="497.9" stroke="#000" stroke-width="1.4" stroke-linecap="butt"/>
<line x1="431.22" y1="487.03" x2="435.22" y2="487.03" stroke="#000" stroke-width="1.4" stroke-linecap="butt"/>
<line x1="431.22" y1="497.9" x2="435.22" y2="497.9" stroke="#000" stroke-width="1.4" stroke-linecap="butt"/>
<rect x="456.9" y="523.27" width="12.15" height="17.03" fill="#ffffff" stroke="#000" stroke-width="1.7"/>
<line x1="462.97" y1="520.01" x2="462.97" y2="526.53" stroke="#000" stroke-width="1.4" stroke-linecap="butt"/>
<line x1="460.97" y1="520.01" x2="464.97" y2="520.01" stroke="#000" stroke-width="1.4" stroke-linecap="butt"/>
<line x1="460.97" y1="526.53" x2="464.97" y2="526.53" stroke="#000" stroke-width="1.4" stroke-linecap="butt"/>
<rect x="469.05" y="426.14" width="12.15" height="114.16" fill="#000000" stroke="#000" stroke-width="1.7"/>
<line x1="475.12" y1="402.23" x2="475.12" y2="450.06" stroke="#000" stroke-width="1.4" stroke-linecap="butt"/>
<line x1="473.12" y1="402.23" x2="477.12" y2="402.23" stroke="#000" stroke-width="1.4" stroke-linecap="butt"/>
<line x1="473.12" y1="450.06" x2="477.12" y2="450.06" stroke="#000" stroke-width="1.4" stroke-linecap="butt"/>
<rect x="481.2" y="527.25" width="12.15" height="13.05" fill="#c8c8c8" stroke="#000" stroke-width="1.7"/>
<line x1="487.27" y1="524.35" x2="487.27" y2="530.15" stroke="#000" stroke-width="1.4" stroke-linecap="butt"/>
<line x1="485.27" y1="524.35" x2="489.27" y2="524.35" stroke="#000" stroke-width="1.4" stroke-linecap="butt"/>
<line x1="485.27" y1="530.15" x2="489.27" y2="530.15" stroke="#000" stroke-width="1.4" stroke-linecap="butt"/>
<rect x="493.35" y="447.16" width="12.15" height="93.14" fill="#8c8c8c" stroke="#000" stroke-width="1.7"/>
<line x1="499.42" y1="430.49" x2="499.42" y2="463.83" stroke="#000" stroke-width="1.4" stroke-linecap="butt"/>
<line x1="497.42" y1="430.49" x2="501.42" y2="430.49" stroke="#000" stroke-width="1.4" stroke-linecap="butt"/>
<line x1="497.42" y1="463.83" x2="501.42" y2="463.83" stroke="#000" stroke-width="1.4" stroke-linecap="butt"/>
<line x1="316" y1="376.3" x2="316" y2="544.2" stroke="#000" stroke-width="2.6" stroke-linecap="butt"/>
<line x1="314.7" y1="540.3" x2="514.6" y2="540.3" stroke="#000" stroke-width="2.4" stroke-linecap="butt"/>
<line x1="312.2" y1="540.3" x2="316" y2="540.3" stroke="#000" stroke-width="2.2" stroke-linecap="butt"/>
<text transform="translate(309.9,542.95) scale(1.07,1)" font-size="9.8" text-anchor="end">0</text>
<line x1="312.2" y1="522.18" x2="316" y2="522.18" stroke="#000" stroke-width="2.2" stroke-linecap="butt"/>
<text transform="translate(309.9,525.11) scale(1.07,1)" font-size="9.8" text-anchor="end">0.5</text>
<line x1="312.2" y1="504.06" x2="316" y2="504.06" stroke="#000" stroke-width="2.2" stroke-linecap="butt"/>
<text transform="translate(309.9,507.27) scale(1.07,1)" font-size="9.8" text-anchor="end">1</text>
<line x1="312.2" y1="485.94" x2="316" y2="485.94" stroke="#000" stroke-width="2.2" stroke-linecap="butt"/>
<text transform="translate(309.9,489.43) scale(1.07,1)" font-size="9.8" text-anchor="end">1.5</text>
<line x1="312.2" y1="467.82" x2="316" y2="467.82" stroke="#000" stroke-width="2.2" stroke-linecap="butt"/>
<text transform="translate(309.9,471.59) scale(1.07,1)" font-size="9.8" text-anchor="end">2</text>
<line x1="312.2" y1="449.7" x2="316" y2="449.7" stroke="#000" stroke-width="2.2" stroke-linecap="butt"/>
<text transform="translate(309.9,453.75) scale(1.07,1)" font-size="9.8" text-anchor="end">2.5</text>
<line x1="312.2" y1="431.58" x2="316" y2="431.58" stroke="#000" stroke-width="2.2" stroke-linecap="butt"/>
<text transform="translate(309.9,435.91) scale(1.07,1)" font-size="9.8" text-anchor="end">3</text>
<line x1="312.2" y1="413.46" x2="316" y2="413.46" stroke="#000" stroke-width="2.2" stroke-linecap="butt"/>
<text transform="translate(309.9,418.07) scale(1.07,1)" font-size="9.8" text-anchor="end">3.5</text>
<line x1="312.2" y1="395.34" x2="316" y2="395.34" stroke="#000" stroke-width="2.2" stroke-linecap="butt"/>
<text transform="translate(309.9,400.23) scale(1.07,1)" font-size="9.8" text-anchor="end">4</text>
<line x1="312.2" y1="377.22" x2="316" y2="377.22" stroke="#000" stroke-width="2.2" stroke-linecap="butt"/>
<text transform="translate(309.9,382.39) scale(1.07,1)" font-size="9.8" text-anchor="end">4.5</text>
<line x1="382.2" y1="540.3" x2="382.2" y2="544.2" stroke="#000" stroke-width="2" stroke-linecap="butt"/>
<line x1="448.4" y1="540.3" x2="448.4" y2="544.2" stroke="#000" stroke-width="2" stroke-linecap="butt"/>
<line x1="514.6" y1="540.3" x2="514.6" y2="544.2" stroke="#000" stroke-width="2" stroke-linecap="butt"/>
<text x="344.2" y="554.9" font-size="10.2" text-anchor="middle">1</text>
<text x="407.7" y="554.9" font-size="10.2" text-anchor="middle">2</text>
<text x="475.2" y="554.9" font-size="10.2" text-anchor="middle">3</text>
<text transform="translate(408.4,565.7) scale(1.08,1)" font-size="11.2" text-anchor="middle">Amplicon</text>
<text transform="translate(290.3,449.3) rotate(-90)" x="0" y="0" font-size="11.2" text-anchor="middle">% of Input</text>
<rect x="339.6" y="379.9" width="5.6" height="5.6" fill="#ffffff" stroke="#000" stroke-width="1.5"/>
<text x="347.6" y="385.5" font-size="10.6">Control KD</text>
<rect x="339.6" y="392.75" width="5.6" height="5.6" fill="#000000" stroke="#000" stroke-width="1.5"/>
<text x="347.6" y="398.35" font-size="10.6">Jhdm1b KD</text>
<rect x="339.6" y="405.6" width="5.6" height="5.6" fill="#c8c8c8" stroke="#000" stroke-width="1.5"/>
<text x="347.6" y="411.2" font-size="10.6">Jhdm1b KD+Wt</text>
<rect x="339.6" y="418.45" width="5.6" height="5.6" fill="#8c8c8c" stroke="#000" stroke-width="1.5"/>
<text x="347.6" y="424.05" font-size="10.6">Jhdm1b KD+Mut</text>
</svg>
</body></html>
